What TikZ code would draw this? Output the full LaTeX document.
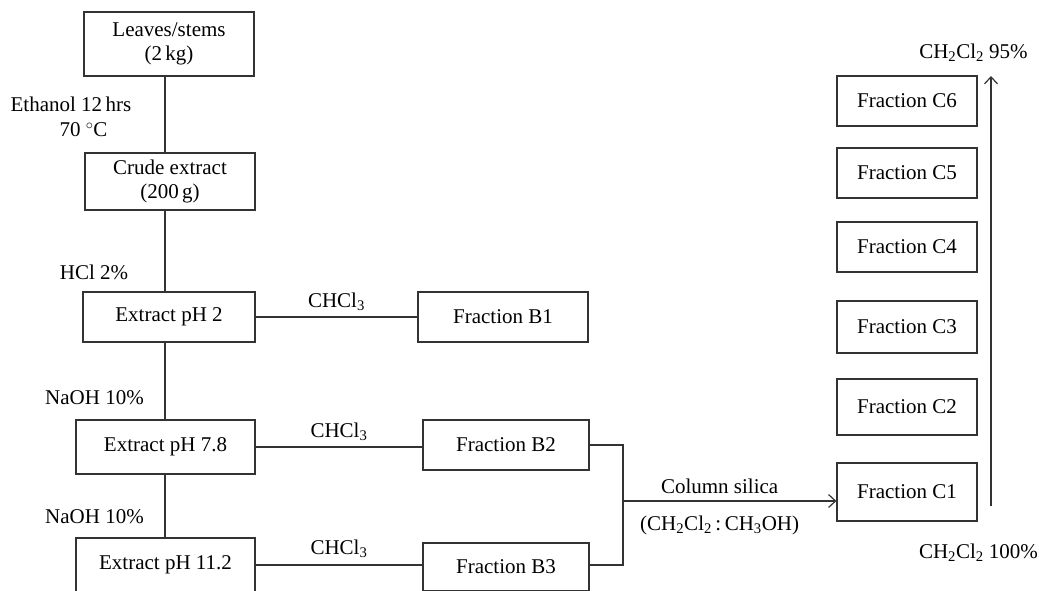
\documentclass[tikz,border=0pt]{standalone}
\usepackage{fontspec}
\setmainfont{Liberation Serif}
\usetikzlibrary{arrows.meta}
\definecolor{ink}{HTML}{333333}
\tikzset{
	stage/.style={draw=ink, line width=1.2pt, inner sep=2pt, align=center,
		font=\fontsize{21}{24.5}\selectfont},
	frac/.style={stage, minimum width=140pt},
	lbl/.style={inner sep=0pt, font=\fontsize{21}{24.5}\selectfont},
	link/.style={draw=ink, line width=1.2pt},
	barb/.style={-{Straight Barb[length=7pt,width=13pt]}}
}

\begin{document}
\begin{tikzpicture}[x=1pt, y=-1pt]
	\path[use as bounding box, clip] (0,0) rectangle (1039,590);
	% extraction column
	\node[stage, minimum width=170pt, minimum height=64pt] (leaves) at (169,44) {Leaves/stems\\(2\,kg)};
	\node[stage, minimum width=170pt, minimum height=57pt] (crude) at (170,181.5) {Crude extract\\(200\,g)};
	\node[stage, minimum width=172pt, minimum height=50pt] (ph2) at (169,317) {Extract pH 2};
	\node[stage, minimum width=179pt, minimum height=54pt] (ph78) at (165.5,447) {Extract pH 7.8};
	\node[stage, minimum width=179pt, minimum height=54pt] (ph112) at (165.5,565) {Extract pH 11.2};
	\coordinate (spine) at (165,0);
	\draw[link] (leaves.south -| spine)--(crude.north -| spine);
	\draw[link] (crude.south -| spine)--(ph2.north -| spine);
	\draw[link] (ph2.south -| spine)--(ph78.north -| spine);
	\draw[link] (ph78.south -| spine)--(ph112.north -| spine);
	\node[lbl] (ethanol) at (71,104) {Ethanol 12\,hrs};
	\node[lbl] (temp) at (83.5,130) {70 $^\circ$C};
	\node[lbl] (hcl) at (94,272) {HCl 2\%};
	\node[lbl] (naohA) at (94.5,398) {NaOH 10\%};
	\node[lbl] (naohB) at (94.5,517) {NaOH 10\%};
	% chloroform fractions
	\node[stage, minimum width=170pt, minimum height=50pt] (b1) at (503,317) {Fraction B1};
	\node[stage, minimum width=166pt, minimum height=50pt] (b2) at (506,445) {Fraction B2};
	\node[stage, minimum width=166pt, minimum height=48pt] (b3) at (506,567) {Fraction B3};
	\draw[link] (ph2)--node[lbl, anchor=base, yshift=10pt] {CHCl\textsubscript{3}} (b1);
	\draw[link] (ph78.east)--node[lbl, anchor=base, yshift=10pt] {CHCl\textsubscript{3}} (ph78.east -| b2.west);
	\draw[link] (ph112.east)--node[lbl, anchor=base, yshift=11pt] {CHCl\textsubscript{3}} (ph112.east -| b3.west);
	% column
	\foreach \i/\y/\h in {1/492/58, 2/407/56, 3/327/52, 4/247/50, 5/173/50, 6/101/50}
		\node[frac, minimum height=\h pt] (c\i) at (907,\y) {Fraction C\i};
	\coordinate (fork) at (623,0);
	\coordinate (join) at (623,501);
	\draw[link] (b2.east)--(b2.east -| fork)--(ph112.east -| fork)--(ph112.east -| b3.east);
	\draw[link, barb] (join)--
		node[lbl, pos=0.453, anchor=base, yshift=8pt] {Column silica}
		node[lbl, pos=0.453, anchor=base, yshift=-29pt] {(CH\textsubscript{2}Cl\textsubscript{2}\,:\,CH\textsubscript{3}OH)}
		(join -| c1.west);
	% gradient
	\coordinate (gradA) at (991,506);
	\coordinate (gradB) at (991,76);
	\draw[link, barb] (gradA)--(gradB);
	\node[lbl, anchor=base] (high) at (973.5,58) {CH\textsubscript{2}Cl\textsubscript{2} 95\%};
	\node[lbl, anchor=base] (low) at (978.5,558) {CH\textsubscript{2}Cl\textsubscript{2} 100\%};
\end{tikzpicture}
\end{document}
